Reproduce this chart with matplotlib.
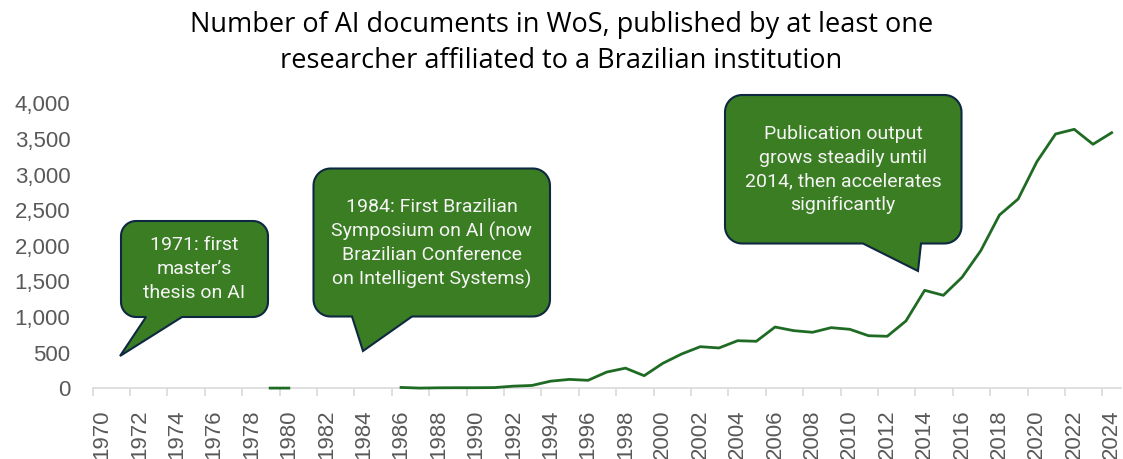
import numpy as np
import matplotlib
matplotlib.use("Agg")
import matplotlib.pyplot as plt
from matplotlib.path import Path
from matplotlib.patches import PathPatch
from matplotlib.transforms import Affine2D

# data (NaN = no documents that year)
years = list(range(1970, 2025))
docs = {
    1979: 3, 1980: 3,
    1986: 12, 1987: 3, 1988: 7, 1989: 8, 1990: 8, 1991: 10, 1992: 30, 1993: 40,
    1994: 100, 1995: 125, 1996: 112, 1997: 228, 1998: 283, 1999: 177,
    2000: 351, 2001: 481, 2002: 584, 2003: 566, 2004: 668, 2005: 660,
    2006: 860, 2007: 809, 2008: 786, 2009: 851, 2010: 828, 2011: 738,
    2012: 730, 2013: 945, 2014: 1375, 2015: 1305, 2016: 1558, 2017: 1931,
    2018: 2432, 2019: 2657, 2020: 3180, 2021: 3569, 2022: 3635, 2023: 3425,
    2024: 3587,
}
values = np.array([docs.get(y, np.nan) for y in years], dtype=float)
tick_years = list(range(1970, 2025, 2))

title = ("Number of AI documents in WoS, published by at least one\n"
         "researcher affiliated to a Brazilian institution")
notes = [
    "1971: first\nmaster\u2019s\nthesis on AI",
    "1984: First Brazilian\nSymposium on AI (now\nBrazilian Conference\non Intelligent Systems)",
    "Publication output\ngrows steadily until\n2014, then accelerates\nsignificantly",
]

W, H = 1123, 459
fig = plt.figure(figsize=(W / 100, H / 100), dpi=100)
ax = fig.add_axes([92.5 / W, 1 - 388.3 / H, (1121 - 92.5) / W, (388.3 - 103.3) / H])

ax.plot(years, values, color="#1f6b24", lw=2, zorder=5, clip_on=False)
ax.set_xlim(1969.5, 2024.5)
ax.set_ylim(0, 4000)

for s in ["top", "right", "left"]:
    ax.spines[s].set_visible(False)
ax.spines["bottom"].set_color("#d9d9d9")
ax.spines["bottom"].set_linewidth(1.2)
ax.spines["bottom"].set_zorder(1)

# tick marks sit on category boundaries, labels on category centres
ax.set_xticks([y - 0.5 for y in tick_years])
ax.set_xticklabels([])
ax.tick_params(axis="x", which="major", length=6, color="#d9d9d9", width=1.2)
ax.set_xticks(tick_years, minor=True)
ax.set_xticklabels([str(y) for y in tick_years], minor=True, rotation=90,
                   fontsize=16, color="#595959", family="Liberation Sans")
ax.tick_params(axis="x", which="minor", length=0, pad=15)

ax.set_yticks(range(0, 4001, 500))
ax.set_yticklabels([f"{v:,}" for v in range(0, 4001, 500)],
                   fontsize=16, color="#595959", family="Liberation Sans")
ax.tick_params(axis="y", length=0, pad=16)

fig.text(0.5, 1 - 43 / H, title, ha="center", va="center", fontsize=19.5,
         family="Open Sans", linespacing=1.38, color="#000000")

# speech bubbles drawn in image pixel coordinates (origin top-left)
pix = Affine2D().scale(1, -1).translate(0, H)


def bubble(x0, y0, x1, y1, r, tail, text, tx, ty):
    tl, tr, tip = tail
    pts = []

    def arc(cx, cy, a0, a1):
        for a in np.linspace(np.radians(a0), np.radians(a1), 12):
            pts.append((cx + r * np.cos(a), cy + r * np.sin(a)))

    arc(x0 + r, y0 + r, 180, 270)
    arc(x1 - r, y0 + r, 270, 360)
    arc(x1 - r, y1 - r, 0, 90)
    pts.append((tr, y1))
    pts.append(tip)
    pts.append((tl, y1))
    arc(x0 + r, y1 - r, 90, 180)
    pts.append(pts[0])
    patch = PathPatch(Path(pts, closed=True), facecolor="#3b7d23",
                      edgecolor="#0e2841", lw=1.5, transform=pix)
    fig.add_artist(patch)
    fig.text(tx / W, 1 - ty / H, text, ha="center", va="center", color="#f4f4f4",
             fontsize=14, family="Roboto", linespacing=1.4)


bubble(121, 221, 268, 317, 15, (146, 182, (120, 356)), notes[0], 194.5, 269)
bubble(313.5, 168.5, 550, 316.5, 17, (352, 412, (363, 351)), notes[1], 431.5, 243.5)
bubble(725, 95, 961.5, 243.5, 17, (863, 921, (918, 271)), notes[2], 843, 169.5)

fig.savefig("out.png", dpi=100)
